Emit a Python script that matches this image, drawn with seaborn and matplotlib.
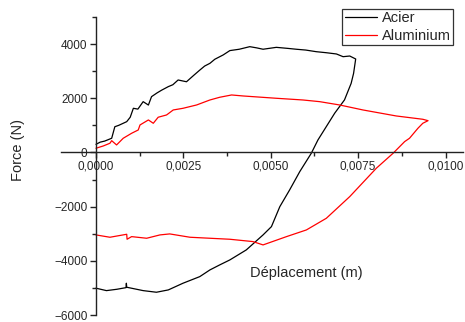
import numpy as np
import pandas as pd
import seaborn as sns
import matplotlib
matplotlib.use("Agg")
import matplotlib.pyplot as plt
from matplotlib.ticker import MultipleLocator, FuncFormatter

# Acier: chargement puis décharge
acier_x = [0.0, 0.00012, 0.00025, 0.00045, 0.00054, 0.00065, 0.00088, 0.00098, 0.00107,
           0.00120, 0.00135, 0.0015, 0.00159, 0.00175, 0.00188, 0.00207, 0.0022, 0.00235,
           0.00259, 0.0028, 0.00297, 0.00311, 0.00326, 0.0034, 0.00364, 0.00383, 0.0041,
           0.0044, 0.0046, 0.00478, 0.00516, 0.0055, 0.00573, 0.006, 0.0063, 0.0066, 0.00688,
           0.00707, 0.00726, 0.00743,
           0.00737, 0.0073, 0.00711, 0.00683, 0.00635, 0.00616, 0.00583, 0.00554, 0.00526,
           0.00502, 0.00478, 0.0043, 0.00383, 0.00354, 0.00326, 0.00297, 0.00249, 0.00207,
           0.00173, 0.00135, 0.00088, 0.00087, 0.00086, 0.0006, 0.0003, 0.0]
acier_y = [300, 380, 420, 524, 950, 1000, 1137, 1300, 1630, 1600, 1875, 1750, 2060, 2200,
           2300, 2430, 2500, 2675, 2610, 2850, 3040, 3190, 3290, 3440, 3600, 3760, 3810,
           3905, 3860, 3810, 3880, 3840, 3810, 3780, 3720, 3680, 3635,
           3535, 3560, 3450,
           2920, 2550, 1940, 1450, 461, -30, -708, -1384, -2000,
           -2738, -3044, -3598, -3967, -4151, -4336, -4583, -4827, -5074,
           -5160, -5100, -4975, -4827, -4990, -5050, -5100, -5010]

# Aluminium
alu_x = [0.0, 0.00021, 0.0004, 0.00045, 0.00059, 0.00078, 0.00102, 0.00121, 0.00126,
         0.0015, 0.00164, 0.00178, 0.00202, 0.00221, 0.00249, 0.00288, 0.00326, 0.00354,
         0.00388, 0.00421, 0.00516, 0.00592, 0.0064, 0.00697, 0.00764, 0.00859, 0.00935,
         0.0095,
         0.00935, 0.00921, 0.00897, 0.00883, 0.0085, 0.00802, 0.00726, 0.00659, 0.00602,
         0.00545, 0.00478, 0.00449, 0.00383, 0.00326, 0.00269, 0.00211, 0.00183, 0.00145,
         0.00102, 0.00089, 0.00088, 0.0004, 0.0]
alu_y = [155, 240, 340, 435, 277, 524, 708, 830, 1015, 1200, 1077, 1300, 1384, 1568, 1630,
         1753, 1937, 2037, 2122, 2085, 2000, 1937, 1875, 1753, 1568, 1347, 1225, 1173,
         1077, 892, 524, 400, -30, -583, -1630, -2430, -2860,
         -3107, -3413, -3290, -3204, -3167, -3130, -3007, -3044, -3167,
         -3107, -3204, -3020, -3130, -3044]

df = pd.concat([
    pd.DataFrame({"x": acier_x, "y": acier_y, "mat": "Acier"}),
    pd.DataFrame({"x": alu_x, "y": alu_y, "mat": "Aluminium"}),
])

sns.set_style("ticks")
plt.rcParams["font.family"] = ["Liberation Sans", "DejaVu Sans"]

fig = plt.figure(figsize=(4.65, 3.22), dpi=100)
ax = fig.add_axes([61 / 465, 1 - 315 / 322, (463 - 61) / 465, (315 - 17) / 322])

sns.lineplot(data=df, x="x", y="y", hue="mat", palette={"Acier": "black", "Aluminium": "#ff0000"},
             sort=False, estimator=None, lw=0.9, ax=ax, legend=False)

ax.set_xlim(-0.001, 0.0105)
ax.set_ylim(-6000, 5000)
ax.spines["left"].set_position(("data", 0))
ax.spines["bottom"].set_position(("data", 0))
ax.spines["right"].set_visible(False)
ax.spines["top"].set_visible(False)
for s in ["left", "bottom"]:
    ax.spines[s].set_color("#222222")
    ax.spines[s].set_linewidth(1.0)

ax.set_xticks([0, 0.0025, 0.005, 0.0075, 0.01])
ax.xaxis.set_minor_locator(MultipleLocator(0.00125))
ax.set_yticks([-6000, -4000, -2000, 0, 2000, 4000])
ax.yaxis.set_minor_locator(MultipleLocator(1000))
ax.xaxis.set_major_formatter(FuncFormatter(lambda v, p: f"{v:.4f}".replace(".", ",")))
ax.tick_params(which="both", direction="out", color="#222222", labelsize=8.5, pad=2)
ax.tick_params(which="major", length=4, width=1)
ax.tick_params(which="minor", length=3, width=1)
ax.set_xlabel("")
ax.set_ylabel("")

fig.text(18 / 465, 1 - 150 / 322, "Force (N)", rotation=90, ha="center", va="center", fontsize=10.5)
fig.text(306 / 465, 1 - 273 / 322, "Déplacement (m)", ha="center", va="center", fontsize=10.5)

from matplotlib.lines import Line2D
handles = [Line2D([], [], color="black", lw=0.9), Line2D([], [], color="#ff0000", lw=0.9)]
leg = fig.legend(handles, ["Acier", "Aluminium"], loc="upper right",
                 bbox_to_anchor=(453 / 465, 1 - 9 / 322), fontsize=10.5, frameon=True,
                 fancybox=False, borderpad=0.15, labelspacing=0.25, handlelength=2.2,
                 handletextpad=0.35, borderaxespad=0)
leg.get_frame().set_edgecolor("black")
leg.get_frame().set_linewidth(0.9)

fig.savefig("out.png", dpi=100)
